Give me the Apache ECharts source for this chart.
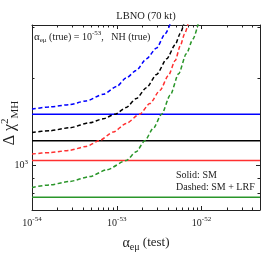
<!DOCTYPE html>
<html><head><meta charset="utf-8">
<script src="https://cdn.jsdelivr.net/npm/echarts@6/dist/echarts.min.js"></script>
<style>html,body{margin:0;padding:0;background:#fff}#c{width:274px;height:257px}</style>
</head><body><div id="c"></div>
<script>
// x values: log10 of alpha_emu(test); y values: Delta chi^2_MH
const xMin = -54, xMax = -51.31;
const yMin = 700, yMax = 3050;
const xTickLabels = [-54, -53, -52];
const yTickLabels = [1000];
const yMinorTicks = [800, 900, 2000, 3000];
const xMinorMantissas = [2, 3, 4, 5, 6, 7, 8, 9];

const seriesColors = ['#0000ff', '#000000', '#ff3030', '#2a962a'];
// Solid: SM (flat levels)
const smLevels = [1500, 1214, 1037, 774];

// Dashed: SM + LRF
const blueLrfX  = [-54, -53.79, -53.56, -53.36, -53.16, -53.00, -52.89, -52.77, -52.65, -52.53, -52.43, -52.37];
const blueLrfY  = [1561, 1590, 1619, 1667, 1757, 1872, 2000, 2124, 2330, 2542, 2840, 3074];
const blackLrfX = [-54, -53.79, -53.56, -53.32, -53.16, -53.02, -52.89, -52.77, -52.65, -52.53, -52.41, -52.31, -52.25, -52.21];
const blackLrfY = [1297, 1315, 1346, 1401, 1446, 1500, 1581, 1698, 1852, 2058, 2330, 2610, 2855, 3074];
const redLrfX   = [-54, -53.79, -53.56, -53.36, -53.21, -53.04, -52.89, -52.73, -52.61, -52.49, -52.39, -52.31, -52.25, -52.20, -52.16];
const redLrfY   = [1093, 1105, 1125, 1161, 1214, 1301, 1393, 1500, 1632, 1813, 2042, 2300, 2589, 2840, 3074];
const greenLrfX = [-54, -53.79, -53.56, -53.32, -53.12, -52.89, -52.77, -52.67, -52.57, -52.47, -52.37, -52.27, -52.18, -52.10, -52.04];
const greenLrfY = [837, 855, 878, 913, 963, 1037, 1113, 1214, 1339, 1500, 1743, 2069, 2424, 2730, 3074];

const lrfX = [blueLrfX, blackLrfX, redLrfX, greenLrfX];
const lrfY = [blueLrfY, blackLrfY, redLrfY, greenLrfY];

const FONT = 'Liberation Serif';
const TXT = '#222';
const lg = Math.log10;

const xMinor = [];
for (let d = -54; d <= -52; d++) {
  for (const m of xMinorMantissas) {
    const v = d + lg(m);
    if (v < xMax) xMinor.push(v);
  }
}
const yMajorL = yTickLabels.map(lg);
const yMinorL = yMinorTicks.map(lg);

const supRich = {
  b: {fontFamily: FONT, fontSize: 10, color: TXT, lineHeight: 14},
  s: {fontFamily: FONT, fontSize: 7, color: TXT, verticalAlign: 'top'}
};

function xAxisDef(pos, ticks, len, showLabel, showLine) {
  return {
    type: 'value', position: pos, min: xMin, max: xMax,
    axisLine: {show: showLine, lineStyle: {color: '#222', width: 1}},
    splitLine: {show: false},
    axisTick: {show: true, inside: true, length: len, customValues: ticks, lineStyle: {color: '#222', width: 1}},
    axisLabel: showLabel ? {show: true, customValues: xTickLabels, margin: 6,
      formatter: v => '{b|10}{s|' + Math.round(v) + '}', rich: supRich} : {show: false}
  };
}
function yAxisDef(pos, ticks, len, showLabel, showLine) {
  return {
    type: 'value', position: pos, min: lg(yMin), max: lg(yMax),
    axisLine: {show: showLine, lineStyle: {color: '#222', width: 1}},
    splitLine: {show: false},
    axisTick: {show: true, inside: true, length: len, customValues: ticks, lineStyle: {color: '#222', width: 1}},
    axisLabel: showLabel ? {show: true, customValues: yMajorL, margin: 4,
      formatter: v => '{b|10}{s|' + Math.round(v) + '}', rich: supRich} : {show: false}
  };
}

const xAxes = [
  xAxisDef('bottom', xTickLabels, 4, true, true),
  xAxisDef('bottom', xMinor, 2.5, false, false),
  xAxisDef('top', xTickLabels, 4, false, true),
  xAxisDef('top', xMinor, 2.5, false, false)
];
xAxes[0].name = '{a|α}{sub|eμ}{t| (test)}';
xAxes[0].nameLocation = 'middle';
xAxes[0].nameGap = 24;
xAxes[0].nameTextStyle = {rich: {
  a: {fontFamily: FONT, fontSize: 14, color: TXT, lineHeight: 18},
  t: {fontFamily: FONT, fontSize: 13, color: TXT, lineHeight: 18},
  sub: {fontFamily: FONT, fontSize: 10, color: TXT, verticalAlign: 'bottom'}
}};
const yAxes = [
  yAxisDef('left', yMajorL, 4, true, true),
  yAxisDef('left', yMinorL, 2.5, false, false),
  yAxisDef('right', yMajorL, 4, false, true),
  yAxisDef('right', yMinorL, 2.5, false, false)
];

const series = [];
smLevels.forEach((lvl, i) => {
  series.push({
    type: 'line', xAxisIndex: 0, yAxisIndex: 0, symbol: 'none', silent: true,
    data: [[xMin, lg(lvl)], [xMax, lg(lvl)]],
    lineStyle: {color: seriesColors[i], width: 1.5}
  });
});
lrfX.forEach((xs, i) => {
  series.push({
    type: 'line', xAxisIndex: 0, yAxisIndex: 0, symbol: 'none', silent: true,
    smooth: 0.25, smoothMonotone: 'x', clip: true,
    data: xs.map((x, j) => [x, lg(lrfY[i][j])]),
    lineStyle: {color: seriesColors[i], width: 1.5, type: [4, 2.5]}
  });
});

const chart = echarts.init(document.getElementById('c'), null, {renderer: 'canvas'});
chart.setOption({
  animation: false,
  backgroundColor: '#fff',
  grid: {left: 32, right: 14, top: 25, bottom: 46, containLabel: false},
  xAxis: xAxes,
  yAxis: yAxes,
  series: series,
  graphic: [
    {type: 'text', x: 146, y: 16, style: {text: 'LBNO (70 kt)', fontFamily: FONT, fontSize: 10.5, fill: TXT, align: 'center', verticalAlign: 'middle'}},
    {type: 'text', x: 34, y: 37, style: {
      text: '{a|α}{sub|eμ}{t| (true) = 10}{sup|-53}{t|,   NH (true)}',
      align: 'left', verticalAlign: 'middle',
      rich: {
        a: {fontFamily: FONT, fontSize: 11, fill: TXT, lineHeight: 14},
        t: {fontFamily: FONT, fontSize: 10, fill: TXT, lineHeight: 14},
        sub: {fontFamily: FONT, fontSize: 7, fill: TXT, verticalAlign: 'bottom'},
        sup: {fontFamily: FONT, fontSize: 7, fill: TXT, verticalAlign: 'top'}
      }}},
    {type: 'text', x: 176, y: 175, style: {text: 'Solid: SM', fontFamily: FONT, fontSize: 10, fill: TXT, align: 'left', verticalAlign: 'middle'}},
    {type: 'text', x: 176, y: 187, style: {text: 'Dashed: SM + LRF', fontFamily: FONT, fontSize: 10, fill: TXT, align: 'left', verticalAlign: 'middle'}},
    {type: 'text', x: 10, y: 123, rotation: Math.PI / 2, style: {
      text: '{t|Δ χ}{sup|2}{sub|MH}', align: 'center', verticalAlign: 'middle',
      rich: {
        t: {fontFamily: FONT, fontSize: 16, fill: TXT, lineHeight: 21},
        sup: {fontFamily: FONT, fontSize: 11, fill: TXT, verticalAlign: 'top'},
        sub: {fontFamily: FONT, fontSize: 11, fill: TXT, verticalAlign: 'bottom'}
      }}}
  ]
});
</script>
</body></html>
